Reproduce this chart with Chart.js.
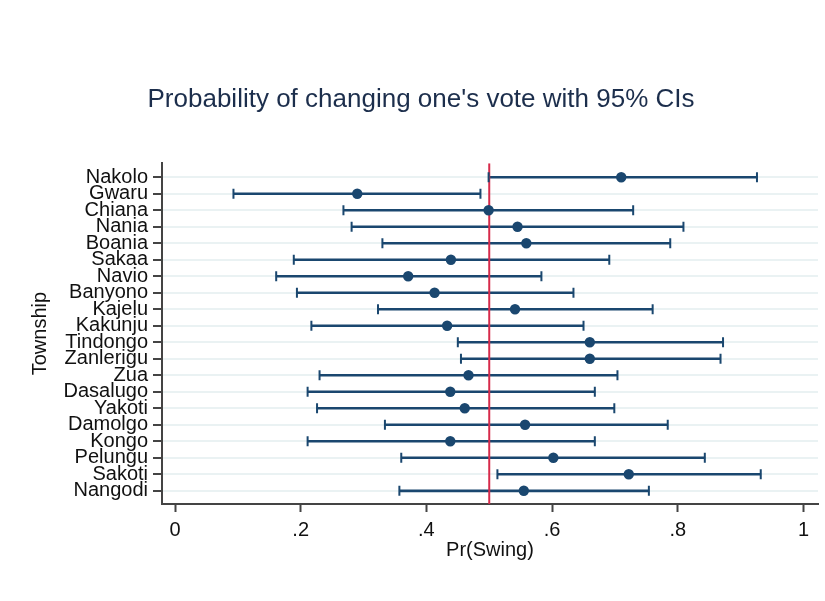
<!DOCTYPE html>
<html>
<head>
<meta charset="utf-8">
<script src="https://cdn.jsdelivr.net/npm/chart.js@4.4.1/dist/chart.umd.min.js"></script>
<style>
    html, body { margin: 0; padding: 0; background: #fff; }
    #wrap { width: 825px; height: 601px; }
</style>
</head>
<body>
<div id="wrap"><canvas id="swingChart"></canvas></div>
<script>
// Townships, top to bottom
const townships = ['Nakolo', 'Gwaru', 'Chiana', 'Nania', 'Boania', 'Sakaa', 'Navio', 'Banyono', 'Kajelu', 'Kakunju',
    'Tindongo', 'Zanlerigu', 'Zua', 'Dasalugo', 'Yakoti', 'Damolgo', 'Kongo', 'Pelungu', 'Sakoti', 'Nangodi'];

// Pr(Swing) point estimates and 95% CI bounds
const estimate = [0.710, 0.290, 0.499, 0.545, 0.559, 0.439, 0.371, 0.413, 0.541, 0.433,
    0.660, 0.660, 0.467, 0.438, 0.461, 0.557, 0.438, 0.602, 0.722, 0.555];
const lower = [0.499, 0.093, 0.268, 0.281, 0.330, 0.189, 0.161, 0.194, 0.323, 0.217,
    0.450, 0.455, 0.230, 0.211, 0.226, 0.334, 0.211, 0.360, 0.513, 0.357];
const upper = [0.926, 0.486, 0.729, 0.809, 0.788, 0.691, 0.583, 0.634, 0.760, 0.650,
    0.872, 0.868, 0.704, 0.668, 0.699, 0.784, 0.668, 0.843, 0.932, 0.754];

// x axis ticks and reference line
const xTicks = [0, 0.2, 0.4, 0.6, 0.8, 1];
const xTickLabels = ['0', '.2', '.4', '.6', '.8', '1'];
const refValue = 0.5;

const NAVY = '#1a476f';
const FONT = '"Liberation Sans", Arial, sans-serif';

const yMin = -0.85;
const yMax = 19.8;

new Chart(document.getElementById('swingChart'), {
    type: 'bar',
    data: {
        datasets: [
            {
                type: 'scatter',
                order: 0,
                data: estimate.map((v, i) => ({ x: v, y: i })),
                backgroundColor: NAVY,
                borderColor: NAVY,
                pointRadius: 5.2,
                borderWidth: 0
            },
            {
                type: 'scatter',
                order: 1,
                data: lower.map((v, i) => ({ x: v, y: i })).concat(upper.map((v, i) => ({ x: v, y: i }))),
                pointStyle: 'line',
                rotation: 90,
                pointRadius: 5,
                borderWidth: 2,
                borderColor: NAVY,
                backgroundColor: NAVY
            },
            {
                type: 'line',
                order: 2,
                data: [{ x: refValue, y: yMin }, { x: refValue, y: yMax }],
                borderColor: '#d62a4a',
                borderWidth: 2,
                pointRadius: 0,
                fill: false
            },
            {
                type: 'bar',
                order: 3,
                data: lower.map((v, i) => ({ x: [v, upper[i]], y: i })),
                backgroundColor: NAVY,
                barThickness: 2,
                borderWidth: 0
            }
        ]
    },
    options: {
        indexAxis: 'y',
        responsive: true,
        maintainAspectRatio: false,
        animation: false,
        layout: { padding: { left: 24, right: 7, top: 0, bottom: 0 } },
        plugins: {
            legend: { display: false },
            tooltip: { enabled: false },
            title: {
                display: true,
                text: "Probability of changing one's vote with 95% CIs",
                color: '#1c2e4c',
                font: { family: FONT, size: 26, weight: 'normal' },
                padding: { top: 84, bottom: 48 }
            }
        },
        scales: {
            x: {
                type: 'linear',
                min: -0.0207,
                max: 1.0231,
                offset: false,
                afterBuildTicks: (scale) => { scale.ticks = xTicks.map(v => ({ value: v })); },
                afterFit: (scale) => { scale.height = 97; },
                ticks: {
                    color: '#111',
                    font: { family: FONT, size: 20 },
                    padding: 6,
                    maxRotation: 0,
                    callback: (value) => xTickLabels[xTicks.indexOf(value)]
                },
                grid: { drawOnChartArea: false, offset: false, tickLength: 8, tickColor: '#444', tickWidth: 2 },
                border: { color: '#444', width: 2 },
                title: {
                    display: true,
                    text: 'Pr(Swing)',
                    color: '#111',
                    font: { family: FONT, size: 20 },
                    padding: { top: 0, bottom: 39 }
                }
            },
            y: {
                type: 'linear',
                reverse: true,
                min: yMin,
                max: yMax,
                offset: false,
                afterBuildTicks: (scale) => { scale.ticks = townships.map((t, i) => ({ value: i })); },
                afterFit: (scale) => { scale.width = 138; },
                ticks: {
                    color: '#111',
                    font: { family: FONT, size: 20 },
                    padding: 5,
                    autoSkip: false,
                    callback: (value) => townships[value]
                },
                grid: { color: '#eaf2f3', lineWidth: 2, offset: false, tickLength: 9, tickColor: '#444', tickWidth: 2 },
                border: { color: '#444', width: 2 },
                title: {
                    display: true,
                    text: 'Township',
                    color: '#111',
                    font: { family: FONT, size: 20 },
                    padding: { top: 4, bottom: 0 }
                }
            }
        }
    }
});
</script>
</body>
</html>
